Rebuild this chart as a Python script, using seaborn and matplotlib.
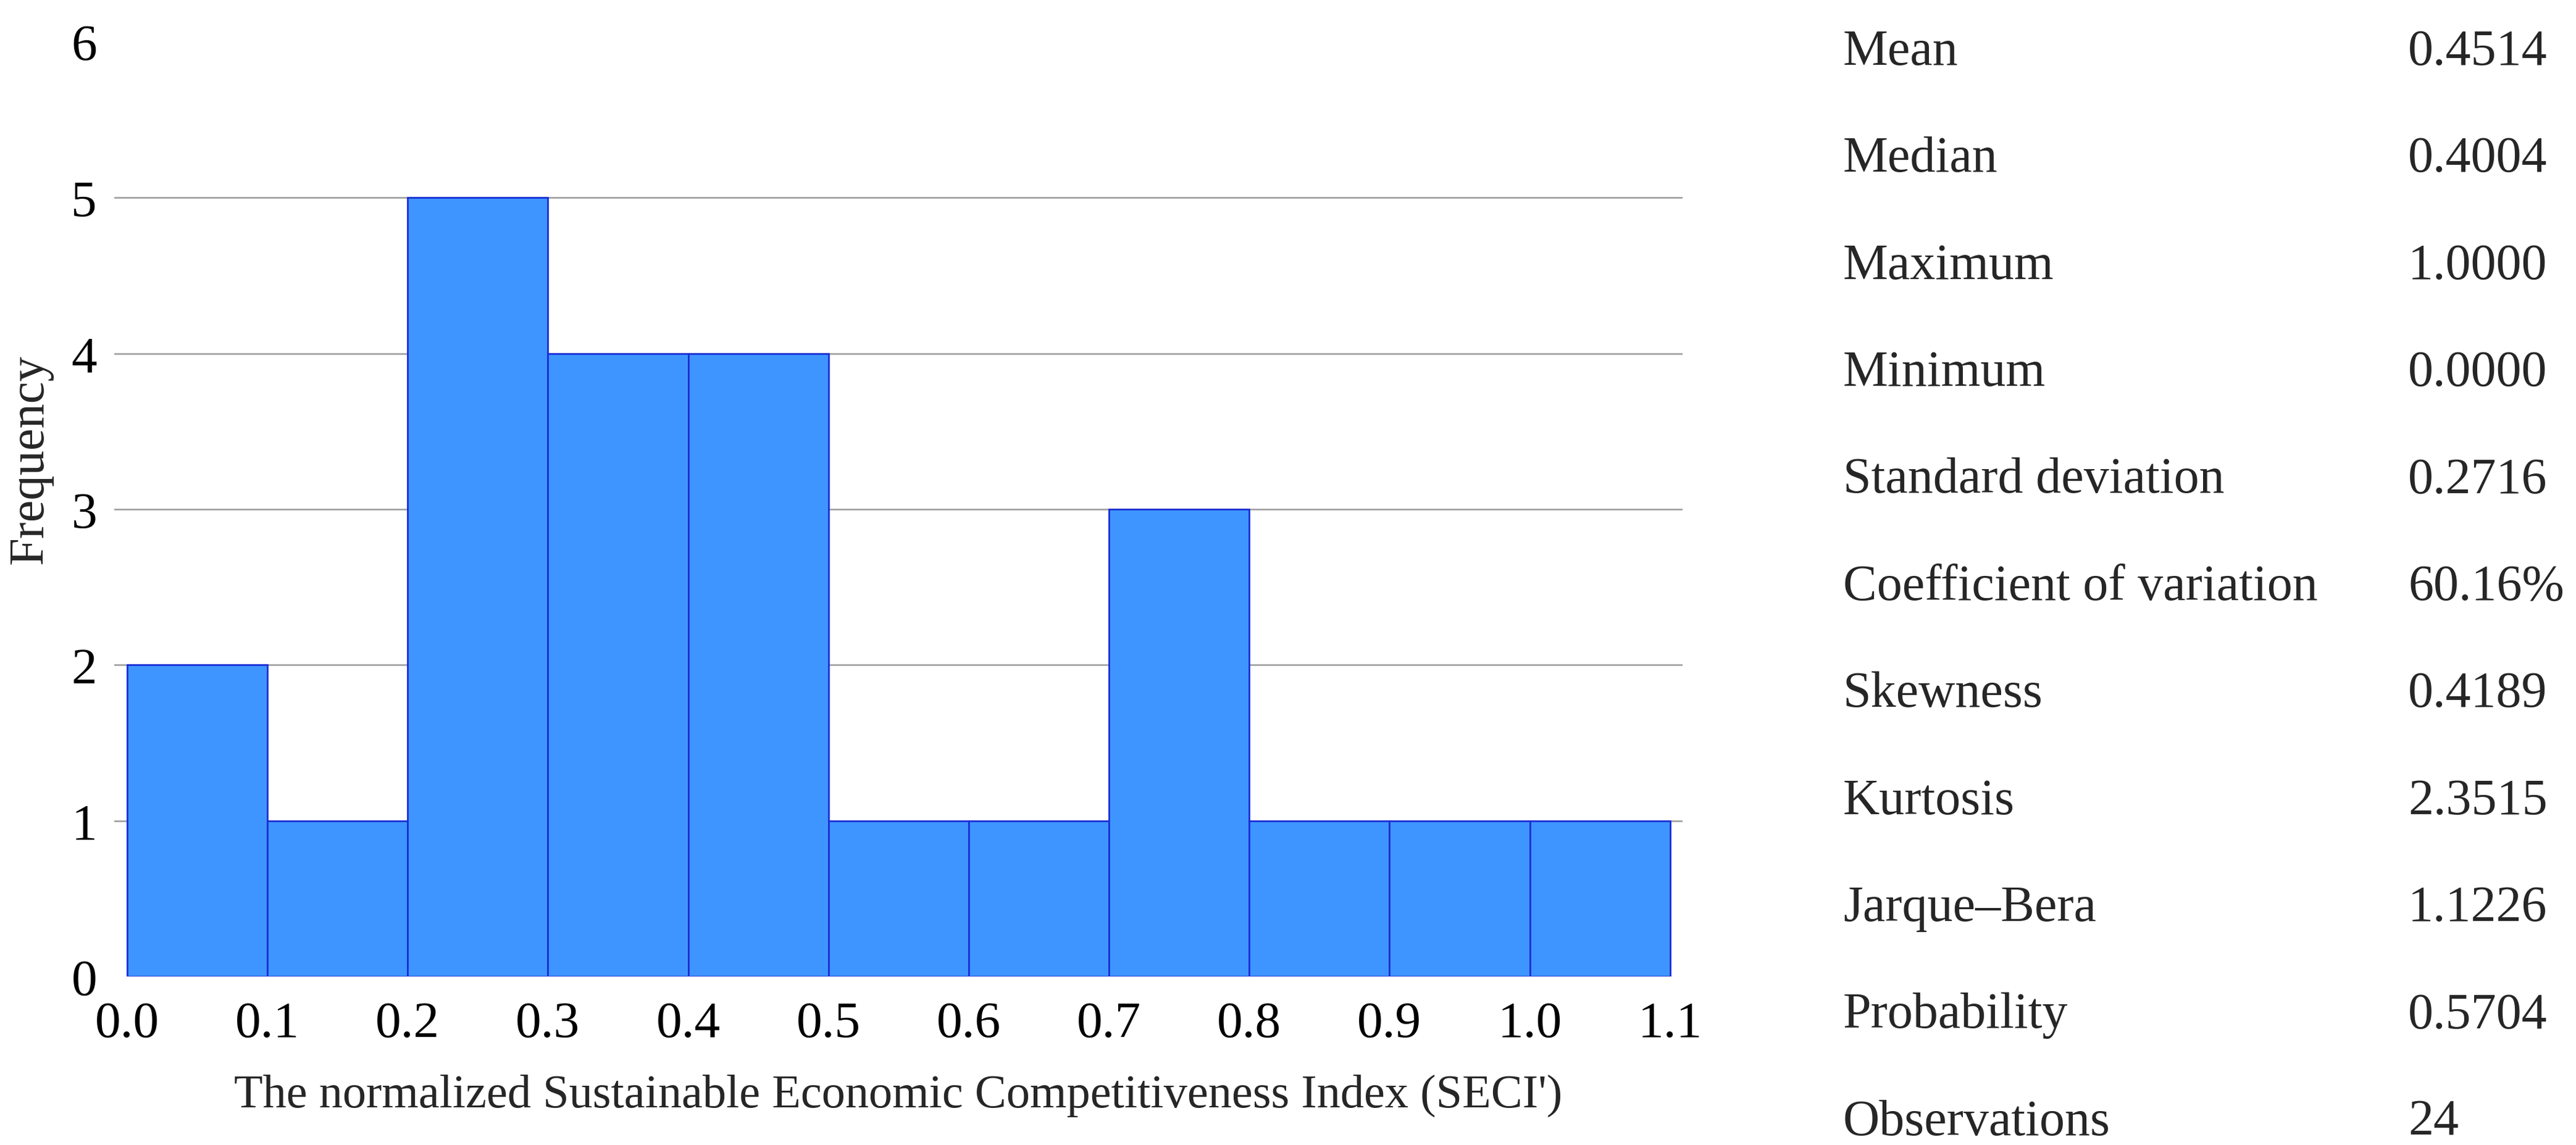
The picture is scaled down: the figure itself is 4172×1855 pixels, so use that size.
import matplotlib
matplotlib.use("Agg")
import matplotlib.pyplot as plt
import seaborn as sns
import numpy as np

# Data
bin_edges = [0.0, 0.1, 0.2, 0.3, 0.4, 0.5, 0.6, 0.7, 0.8, 0.9, 1.0, 1.1]
counts = [2, 1, 5, 4, 4, 1, 1, 3, 1, 1, 1]
x_ticks = [0.0, 0.1, 0.2, 0.3, 0.4, 0.5, 0.6, 0.7, 0.8, 0.9, 1.0, 1.1]
y_ticks = [0, 1, 2, 3, 4, 5, 6]
stat_names = ["Mean", "Median", "Maximum", "Minimum", "Standard deviation",
              "Coefficient of variation", "Skewness", "Kurtosis", "Jarque\u2013Bera",
              "Probability", "Observations"]
stat_values = ["0.4514", "0.4004", "1.0000", "0.0000", "0.2716", "60.16%",
               "0.4189", "2.3515", "1.1226", "0.5704", "24"]

sns.set_theme(style="white")
plt.rcParams['font.family'] = ['Liberation Serif', 'DejaVu Serif']

centers = [(bin_edges[i] + bin_edges[i + 1]) / 2 for i in range(len(counts))]

fig = plt.figure(figsize=(20.86, 9.28), dpi=200)
ax = fig.add_axes([0.0443, 0.147, 0.6089, 0.816])

sns.histplot(x=centers, weights=counts, bins=bin_edges, ax=ax,
             color="#3F95FF", edgecolor="#1A2ED6", linewidth=1.0, alpha=1.0)

ax.set_xlim(-0.0093, 1.109)
ax.set_ylim(0, 6)
ax.set_xticks(x_ticks)
ax.set_xticklabels([f"{t:.1f}" for t in x_ticks])
ax.set_yticks(y_ticks)
ax.tick_params(axis="both", length=0, labelsize=30, colors="black")
ax.tick_params(axis="y", pad=10)
ax.tick_params(axis="x", pad=14)

ax.yaxis.grid(True, color="#9A9A9A", linewidth=0.9)
ax.xaxis.grid(False)
ax.set_axisbelow(True)
for gl, t in zip(ax.get_ygridlines(), y_ticks):
    if t in (0, 6):
        gl.set_visible(False)
for s in ax.spines.values():
    s.set_visible(False)

ax.set_xlabel("The normalized Sustainable Economic Competitiveness Index (SECI')",
              fontsize=27.5)
ax.set_ylabel("Frequency", fontsize=29)
ax.xaxis.set_label_coords(0.5, -0.104)
ax.yaxis.set_label_coords(-0.039, 0.554)

W, H = 4172, 1856
y0 = 85
dy = 173.4
for i, (n, v) in enumerate(zip(stat_names, stat_values)):
    yy = 1 - (y0 + i * dy) / H
    fig.text(2985 / W, yy, n, fontsize=29.5, va="center", ha="left")
    fig.text(3900 / W, yy, v, fontsize=29.5, va="center", ha="left")

fig.savefig("out.png", dpi=200)
